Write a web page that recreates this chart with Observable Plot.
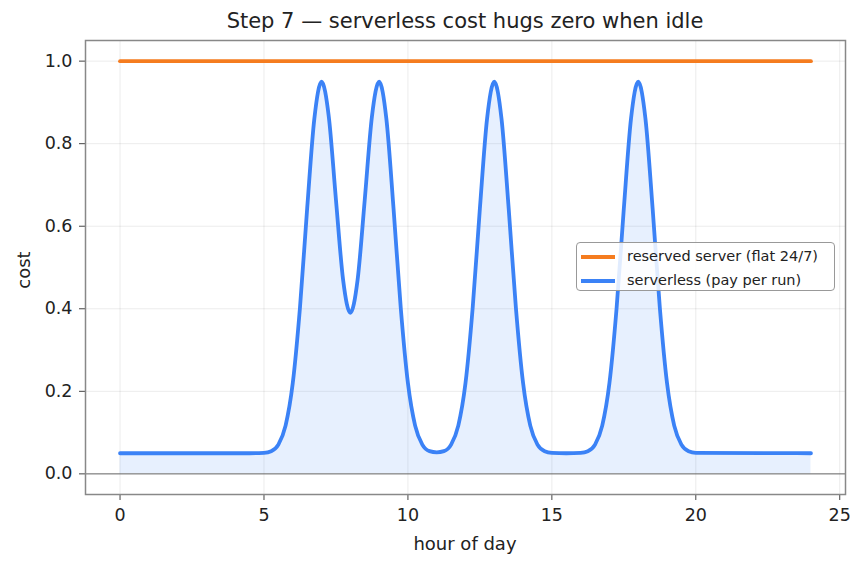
<!DOCTYPE html>
<html><head><meta charset="utf-8">
<script src="https://cdn.jsdelivr.net/npm/d3@7"></script>
<script src="https://cdn.jsdelivr.net/npm/@observablehq/plot@0.6"></script>
<style>
body{margin:0;background:#fff;font-family:"DejaVu Sans",sans-serif;}
#wrap{position:relative;width:865px;height:567px;}
.ov{position:absolute;color:#222;white-space:nowrap;}
#title{left:85px;width:760px;top:9px;text-align:center;font-size:21px;}
#xlabel{left:85px;width:760px;top:533px;text-align:center;font-size:18px;}
#ylabel{left:23px;top:270px;font-size:18px;transform:translate(-50%,-50%) rotate(-90deg);}
#legend{left:576px;top:242px;width:257px;height:47px;border:1px solid #999;border-radius:4px;background:rgba(255,255,255,0.85);font-size:14.5px;}
.row{position:absolute;left:4px;height:20px;line-height:20px;}
.sw{display:inline-block;width:34px;height:3.5px;vertical-align:middle;margin-right:12px;}
</style></head>
<body><div id="wrap"></div>
<script>
const hours = [0,4.5,5,5.25,5.5,5.75,6,6.25,6.5,6.75,7,7.25,7.5,7.75,8,8.25,8.5,8.75,9,9.25,9.5,9.75,10,10.25,10.5,10.75,11,11.25,11.5,11.75,12,12.25,12.5,12.75,13,13.25,13.5,13.75,14,14.25,14.5,14.75,15,15.5,16,16.25,16.5,16.75,17,17.25,17.5,17.75,18,18.25,18.5,18.75,19,19.25,19.5,19.75,20,24];
const serverless = [0.05,0.05,0.051,0.055,0.071,0.117,0.22,0.403,0.643,0.861,0.95,0.866,0.664,0.469,0.39,0.469,0.664,0.866,0.95,0.861,0.643,0.403,0.22,0.117,0.071,0.055,0.052,0.055,0.071,0.117,0.22,0.403,0.643,0.861,0.95,0.861,0.643,0.403,0.22,0.117,0.071,0.055,0.051,0.05,0.051,0.055,0.071,0.117,0.22,0.403,0.643,0.861,0.95,0.861,0.643,0.403,0.22,0.117,0.071,0.055,0.051,0.05];
const reservedHours = [0,24];
const reserved = [1,1];
const xTicks = [0,5,10,15,20,25];
const yTicks = [0,0.2,0.4,0.6,0.8,1.0];
const seriesNames = ["reserved server (flat 24/7)","serverless (pay per run)"];
const colors = ["#f57c1f","#3b82f6"];

const sData = hours.map((h,i)=>({h, c: serverless[i]}));
const rData = reservedHours.map((h,i)=>({h, c: reserved[i]}));

const chart = Plot.plot({
  width: 865, height: 567,
  marginLeft: 85, marginRight: 20, marginTop: 40, marginBottom: 73,
  style: {fontFamily: "DejaVu Sans, sans-serif", background: "#fff", color: "#222"},
  x: {domain: [-1.2, 25.2]},
  y: {domain: [-0.05, 1.05]},
  marks: [
    Plot.gridX(xTicks, {stroke: "#000", strokeOpacity: 0.08}),
    Plot.gridY(yTicks, {stroke: "#000", strokeOpacity: 0.08}),
    Plot.areaY(sData, {x: "h", y: "c", fill: colors[1], fillOpacity: 0.12, curve: "monotone-x"}),
    Plot.ruleY([0], {stroke: "#6b6b6b", strokeWidth: 1}),
    Plot.lineY(rData, {x: "h", y: "c", stroke: colors[0], strokeWidth: 3.8}),
    Plot.lineY(sData, {x: "h", y: "c", stroke: colors[1], strokeWidth: 3.8, curve: "monotone-x"}),
    Plot.axisX(xTicks, {tickSize: 6, tickPadding: 8, fontSize: 17.5, label: null, stroke: "#444"}),
    Plot.axisY(yTicks, {tickSize: 6, tickPadding: 7, fontSize: 17.5, label: null, tickFormat: d3.format(".1f"), stroke: "#444"}),
    Plot.frame({stroke: "#888", strokeWidth: 1.5})
  ]
});
const wrap = document.getElementById("wrap");
wrap.appendChild(chart);
function ov(id, html){const d=document.createElement("div");d.className="ov";d.id=id;d.innerHTML=html;wrap.appendChild(d);return d;}
ov("title","Step 7 \u2014 serverless cost hugs zero when idle");
ov("xlabel","hour of day");
ov("ylabel","cost");
const lg = ov("legend","");
seriesNames.forEach((n,i)=>{
  const r=document.createElement("div");r.className="row";r.style.top=(3+i*24)+"px";
  r.innerHTML=`<span class="sw" style="background:${colors[i]}"></span>${n}`;
  lg.appendChild(r);
});
</script></body></html>
